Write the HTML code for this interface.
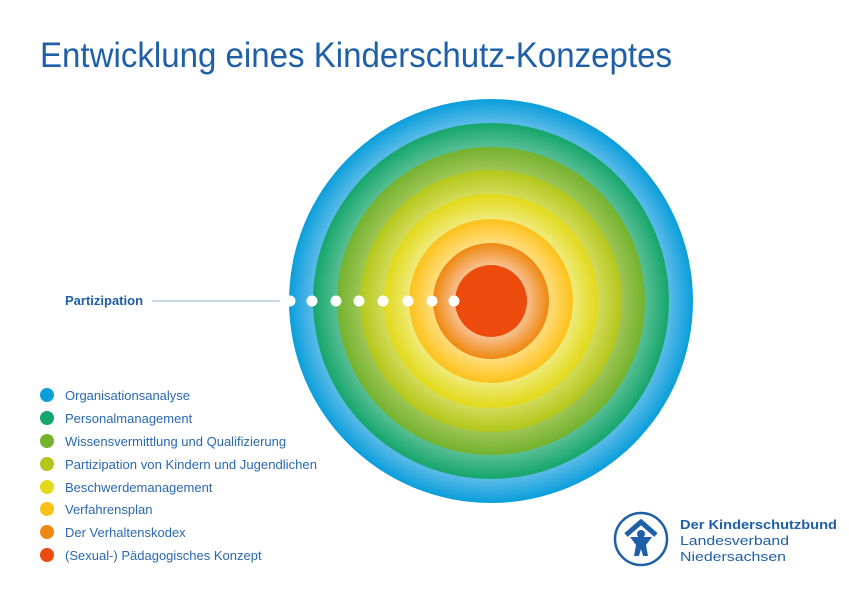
<!DOCTYPE html>
<html><head><meta charset="utf-8"><style>
body{margin:0;background:#fff;}
svg{display:block;font-family:"Liberation Sans",sans-serif;}
</style></head><body>
<svg width="849" height="600" viewBox="0 0 849 600">
<defs>
<radialGradient id="g1" gradientUnits="userSpaceOnUse" cx="491" cy="301" r="202"><stop offset="0.88" stop-color="#5cbbe8"/><stop offset="1" stop-color="#0a9edb"/></radialGradient>
<radialGradient id="g2" gradientUnits="userSpaceOnUse" cx="491" cy="301" r="178"><stop offset="0.86" stop-color="#5abf95"/><stop offset="1" stop-color="#15a66c"/></radialGradient>
<radialGradient id="g3" gradientUnits="userSpaceOnUse" cx="491" cy="301" r="154"><stop offset="0.85" stop-color="#9cc556"/><stop offset="1" stop-color="#74b22d"/></radialGradient>
<radialGradient id="g4" gradientUnits="userSpaceOnUse" cx="491" cy="301" r="131"><stop offset="0.82" stop-color="#d2da58"/><stop offset="1" stop-color="#b3c71a"/></radialGradient>
<radialGradient id="g5" gradientUnits="userSpaceOnUse" cx="491" cy="301" r="107"><stop offset="0.77" stop-color="#eeea78"/><stop offset="1" stop-color="#e2d918"/></radialGradient>
<radialGradient id="g6" gradientUnits="userSpaceOnUse" cx="491" cy="301" r="82"><stop offset="0.72" stop-color="#ffdc78"/><stop offset="1" stop-color="#fcc11a"/></radialGradient>
<radialGradient id="g7" gradientUnits="userSpaceOnUse" cx="491" cy="301" r="58"><stop offset="0.62" stop-color="#f8c090"/><stop offset="1" stop-color="#ef880f"/></radialGradient>
</defs>
<text x="40" y="67" font-size="35" fill="#1e5fa8" textLength="632" lengthAdjust="spacingAndGlyphs">Entwicklung eines Kinderschutz-Konzeptes</text>
<circle cx="491" cy="301" r="202" fill="url(#g1)"/>
<circle cx="491" cy="301" r="178" fill="url(#g2)"/>
<circle cx="491" cy="301" r="154" fill="url(#g3)"/>
<circle cx="491" cy="301" r="131" fill="url(#g4)"/>
<circle cx="491" cy="301" r="107" fill="url(#g5)"/>
<circle cx="491" cy="301" r="82" fill="url(#g6)"/>
<circle cx="491" cy="301" r="58" fill="url(#g7)"/>
<circle cx="491" cy="301" r="36" fill="#ec4b0b"/>
<g fill="#fff">
<circle cx="290" cy="301" r="5.5"/><circle cx="312" cy="301" r="5.5"/><circle cx="336" cy="301" r="5.5"/><circle cx="359" cy="301" r="5.5"/><circle cx="383" cy="301" r="5.5"/><circle cx="408" cy="301" r="5.5"/><circle cx="432" cy="301" r="5.5"/><circle cx="454" cy="301" r="5.5"/>
</g>
<text x="65" y="305" font-size="13" font-weight="bold" fill="#1e5fa8">Partizipation</text>
<line x1="152" y1="301" x2="280" y2="301" stroke="#8fb0d8" stroke-width="1"/>
<g font-size="13" fill="#2a68b0">
<circle cx="47" cy="395" r="7" fill="#0a9edb"/><text x="65" y="400">Organisationsanalyse</text>
<circle cx="47" cy="418" r="7" fill="#15a66c"/><text x="65" y="423">Personalmanagement</text>
<circle cx="47" cy="441" r="7" fill="#74b22d"/><text x="65" y="446">Wissensvermittlung und Qualifizierung</text>
<circle cx="47" cy="464" r="7" fill="#b3c71a"/><text x="65" y="469" textLength="252" lengthAdjust="spacingAndGlyphs">Partizipation von Kindern und Jugendlichen</text>
<circle cx="47" cy="487" r="7" fill="#e2d918"/><text x="65" y="492">Beschwerdemanagement</text>
<circle cx="47" cy="509" r="7" fill="#fcc11a"/><text x="65" y="514">Verfahrensplan</text>
<circle cx="47" cy="532" r="7" fill="#ef880f"/><text x="65" y="537">Der Verhaltenskodex</text>
<circle cx="47" cy="555" r="7" fill="#ec4b0b"/><text x="65" y="560">(Sexual-) Pädagogisches Konzept</text>
</g>
<g fill="none" stroke="#1e5fa8">
<circle cx="641" cy="539" r="26" stroke-width="2.5"/>
<path d="M626 535 L641 522 L656 535" stroke-width="5" stroke-linejoin="miter"/>
</g>
<g fill="#1e5fa8">
<circle cx="641" cy="534" r="4"/>
<path d="M630 537 L652 537 L646 545 L648 556 L643 556 L641 549 L639 556 L634 556 L636 545 Z"/>
</g>
<text x="680" y="529" font-size="13" font-weight="bold" fill="#1e5fa8" textLength="157" lengthAdjust="spacingAndGlyphs">Der Kinderschutzbund</text>
<text x="680" y="545" font-size="13" fill="#1e5fa8" textLength="109" lengthAdjust="spacingAndGlyphs">Landesverband</text>
<text x="680" y="561" font-size="13" fill="#1e5fa8" textLength="106" lengthAdjust="spacingAndGlyphs">Niedersachsen</text>
</svg>
</body></html>
